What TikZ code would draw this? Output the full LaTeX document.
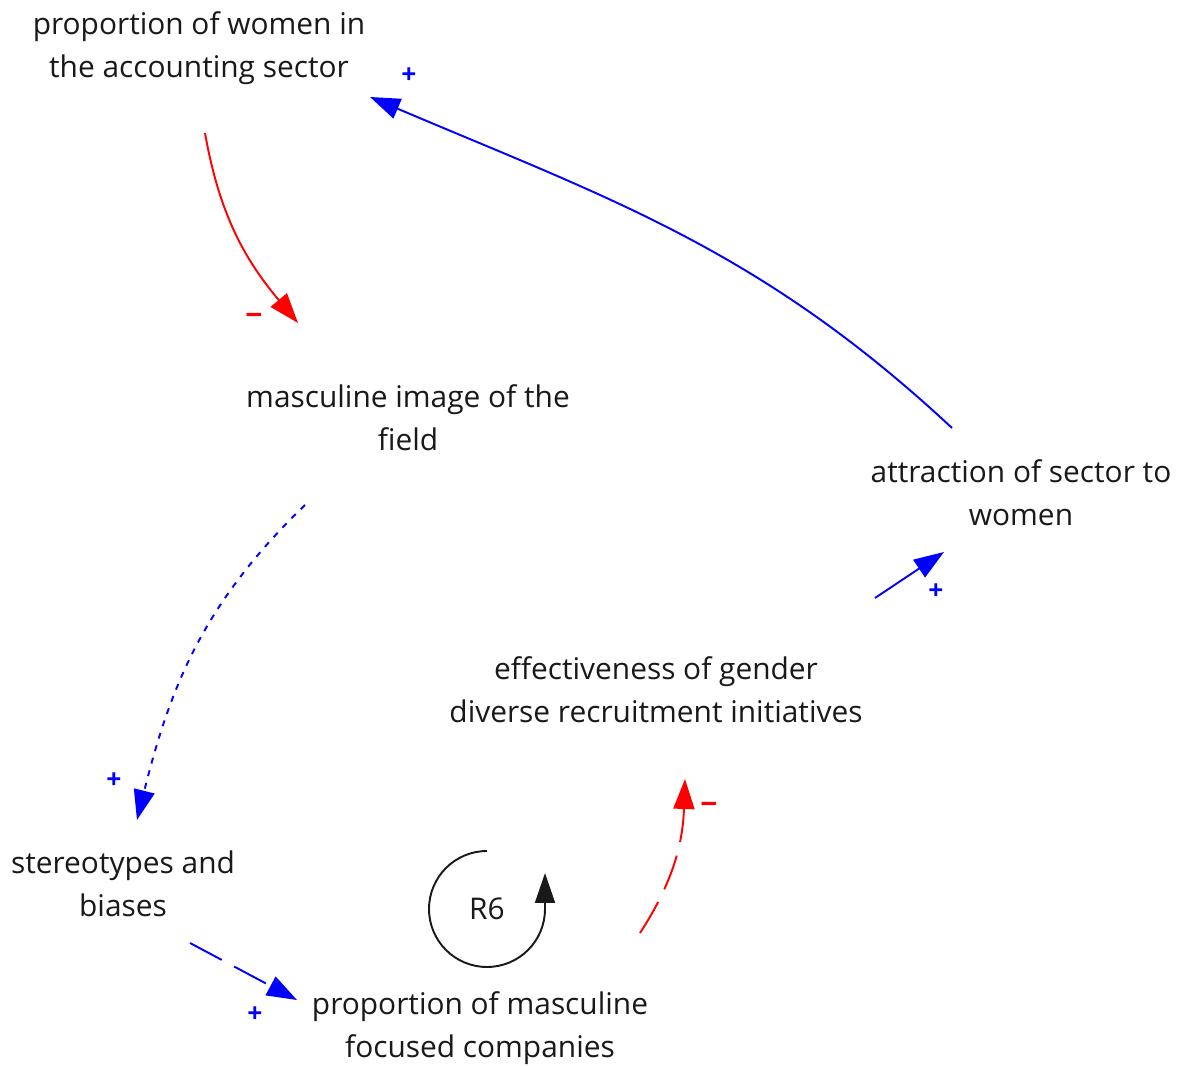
\documentclass[tikz,border=0pt]{standalone}
\usepackage{fontspec}
\setmainfont{Open Sans}
\usetikzlibrary{arrows.meta, calc}
\definecolor{cldblue}{RGB}{0,0,255}
\definecolor{cldred}{RGB}{255,0,0}
\definecolor{cldtext}{RGB}{25,25,25}

\begin{document}
\begin{tikzpicture}[x=0.02cm, y=0.02cm,
		font=\fontsize{17}{24.4}\selectfont,
		var/.style={align=center, text=cldtext, inner sep=0pt},
		link/.style={line width=1.1pt, -{Triangle[length=0.6cm, width=0.42cm]}},
		poslink/.style={link, draw=cldblue},
		neglink/.style={link, draw=cldred},
		longdash/.style={dash pattern=on 0.72cm off 0.28cm},
		dots/.style={dash pattern=on 0.12cm off 0.14cm},
		signpos/.style={text=cldblue, font=\fontsize{15}{15}\selectfont\bfseries},
		signneg/.style={text=cldred, font=\fontsize{17}{17}\selectfont\bfseries}]
		\useasboundingbox (0,0) rectangle (1183,1065);
		% variables
		\node[var] (women) at (199,1017) {proportion of women in\\the accounting sector};
		\node[var] (image) at (408,647) {masculine image of the\\field};
		\node[var] (attr) at (1021,572) {attraction of sector to\\women};
		\node[var] (effect) at (656,375) {effectiveness of gender\\diverse recruitment initiatives};
		\node[var] (stereo) at (123,181) {stereotypes and\\biases};
		\node[var] (comp) at (480,37) {proportion of masculine\\focused companies};
		% links
		\draw[neglink] ($(women)+(6,-85)$) to[out=-80, in=130] ($(image)+(-110,95)$);
		\draw[poslink, dots] ($(image)+(-103,-87)$) to[out=-136, in=76] ($(stereo)+(14,64)$);
		\draw[poslink, longdash] ($(stereo)+(67,-59)$) -- ($(comp)+(-183,28)$);
		\draw[neglink, longdash] ($(comp)+(160,95)$) to[out=57, in=-92] ($(effect)+(29,-89)$);
		\draw[poslink] ($(effect)+(219,92)$) -- ($(attr)+(-77,-59)$);
		\draw[poslink] ($(attr)+(-69,65)$) to[out=137, in=-23] ($(women)+(171,-49)$);
		% polarities
		\node[signneg] (m1) at (254,746) {−};
		\node[signpos] (p1) at (114,284) {+};
		\node[signpos] (p2) at (255,50) {+};
		\node[signneg] (m2) at (709,257) {−};
		\node[signpos] (p3) at (936,473) {+};
		\node[signpos] (p4) at (409,989) {+};
		% loop
		\node[var] (r6) at (487,156) {R6};
		\draw[line width=1.1pt, cldtext, -{Triangle[length=0.6cm, width=0.4cm]}]
		  ($(r6)+(0,58)$) arc[start angle=90, end angle=360, radius=58] -- ++(0,36);
\end{tikzpicture}
\end{document}
